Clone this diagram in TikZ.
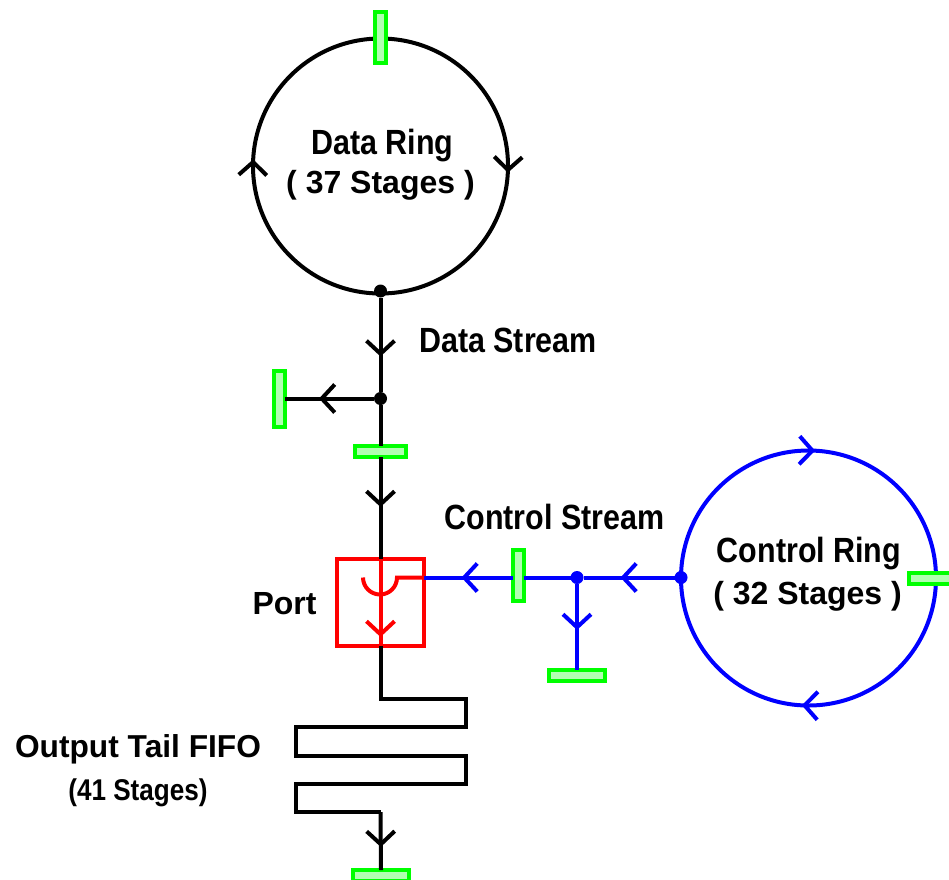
\documentclass[tikz,border=0pt]{standalone}
\usepackage{fontspec}
\setmainfont{Liberation Sans}
\newfontfamily\condfont[FakeStretch=.87]{Liberation Sans}
\usetikzlibrary{arrows.meta,decorations.markings,calc}
\definecolor{latchfill}{RGB}{178,255,178}
\begin{document}
\begin{tikzpicture}[
    x=1pt,y=-1pt,line width=4pt,
    every node/.style={inner sep=0pt,outer sep=0pt},
    barb/.tip={Straight Barb[length=13pt,width=28pt]},
    flowtip/.style={postaction={decorate,decoration={markings,
        mark=at position #1 with {\arrow{barb}}}}},
    ring/.style={draw,circle,minimum size=255pt},
    dot/.style={circle,fill,minimum size=13pt},
    latch/.style={draw=green,fill=latchfill,line width=4pt},
    latchh/.style={latch,minimum width=51pt,minimum height=11pt},
    latchv/.style={latch,minimum width=11pt,minimum height=51pt},
    widetext/.style={font=\fontsize{32}{32}\selectfont\bfseries},
    condtext/.style={font=\fontsize{35}{35}\selectfont\condfont\bfseries}]
    \useasboundingbox (0,0) rectangle (949,879);

    \node[ring] (dataring) at (380.5,166) {};
    \node[ring,blue] (ctrlring) at (808.5,578) {};
    \node[draw=red,minimum size=87pt] (port) at (380.5,602.5) {};

    \node[latchv] (ringlatch) at (380.5,37.5) {};
    \node[latchv,minimum height=56pt] (sidelatch) at (279.5,398.5) {};
    \node[latchh] (datalatch) at (380.5,451.5) {};
    \node[latchv] (ctrllatch) at (518,575.5) {};
    \node[latchh,minimum width=56pt] (droplatch) at (577,675.5) {};
    \node[latchh,minimum width=56pt] (ctrlringlatch) at (937,578.5) {};
    \node[latchh,minimum width=56pt] (taillatch) at (381,875.5) {};

    \node[dot] (ringtap) at (380.5,291) {};
    \node[dot] (datatap) at (380.5,398.5) {};
    \node[dot,blue] (ctrltap) at (577,577.5) {};
    \node[dot,blue] (ringout) at (681,577.5) {};

    \coordinate (hopleft) at (363,577.5);
    \coordinate (portin) at (port.east |- ctrltap);
    \coordinate (fifoa) at (380.5,699);
    \coordinate (fifob) at (466,699);
    \coordinate (fifoc) at (466,727);
    \coordinate (fifod) at (296,727);
    \coordinate (fifoe) at (296,756);
    \coordinate (fifof) at (466,756);
    \coordinate (fifog) at (466,784);
    \coordinate (fifoh) at (296,784);
    \coordinate (fifoi) at (296,812);
    \coordinate (fifoj) at (380.5,812);

    \draw[flowtip=59pt] (ringtap) -- (datatap);
    \draw[flowtip=55pt] (datatap) -- (sidelatch.east |- datatap);
    \draw (datatap) -- (datalatch.north);
    \draw[flowtip=50pt] (datalatch.south) -- (port.north);
    \draw (port.south) -- (fifoa) -- (fifob) -- (fifoc) -- (fifod)
        -- (fifoe) -- (fifof) -- (fifog) -- (fifoh) -- (fifoi) -- (fifoj);
    \draw[flowtip=35pt] (fifoj) -- (taillatch.north);

    \draw[-barb] (dataring.west) -- (dataring.177);
    \draw[-barb] (dataring.east) -- (dataring.-3);

    \draw[blue,-barb] (ctrlring.north) -- (ctrlring.87);
    \draw[blue,-barb] (ctrlring.south) -- (ctrlring.267.5);
    \draw[blue,flowtip=54pt] (ringout) -- (ctrltap);
    \draw[blue] (ctrltap) -- (ctrltap -| ctrllatch.east);
    \draw[blue,flowtip=51pt] (ctrltap -| ctrllatch.west) -- (portin);
    \draw[blue,flowtip=46pt] (ctrltap) -- (droplatch.north);

    \draw[red,flowtip=78pt] (port.north) -- (port.south);
    \draw[red] (hopleft) arc[start angle=180,end angle=0,radius=17] -- (portin);

    \node[condtext] (dataringname) at (382.5,146) {Data Ring};
    \node[widetext] (dataringsize) at (380.5,185) {( 37 Stages )};
    \node[condtext] (datastream) at (508,340) {Data Stream};
    \node[condtext] (ctrlstream) at (554.5,517) {Control Stream};
    \node[condtext] (ctrlringname) at (809,554) {Control Ring};
    \node[widetext] (ctrlringsize) at (807.5,596) {( 32 Stages )};
    \node[widetext] (portname) at (284.5,604) {Port};
    \node[widetext,font=\fontsize{31.7}{32}\selectfont\bfseries] (tailname) at (138,749) {Output Tail FIFO};
    \node[condtext,font=\fontsize{30}{30}\selectfont\condfont\bfseries] (tailsize) at (138,793) {(41 Stages)};
\end{tikzpicture}
\end{document}
